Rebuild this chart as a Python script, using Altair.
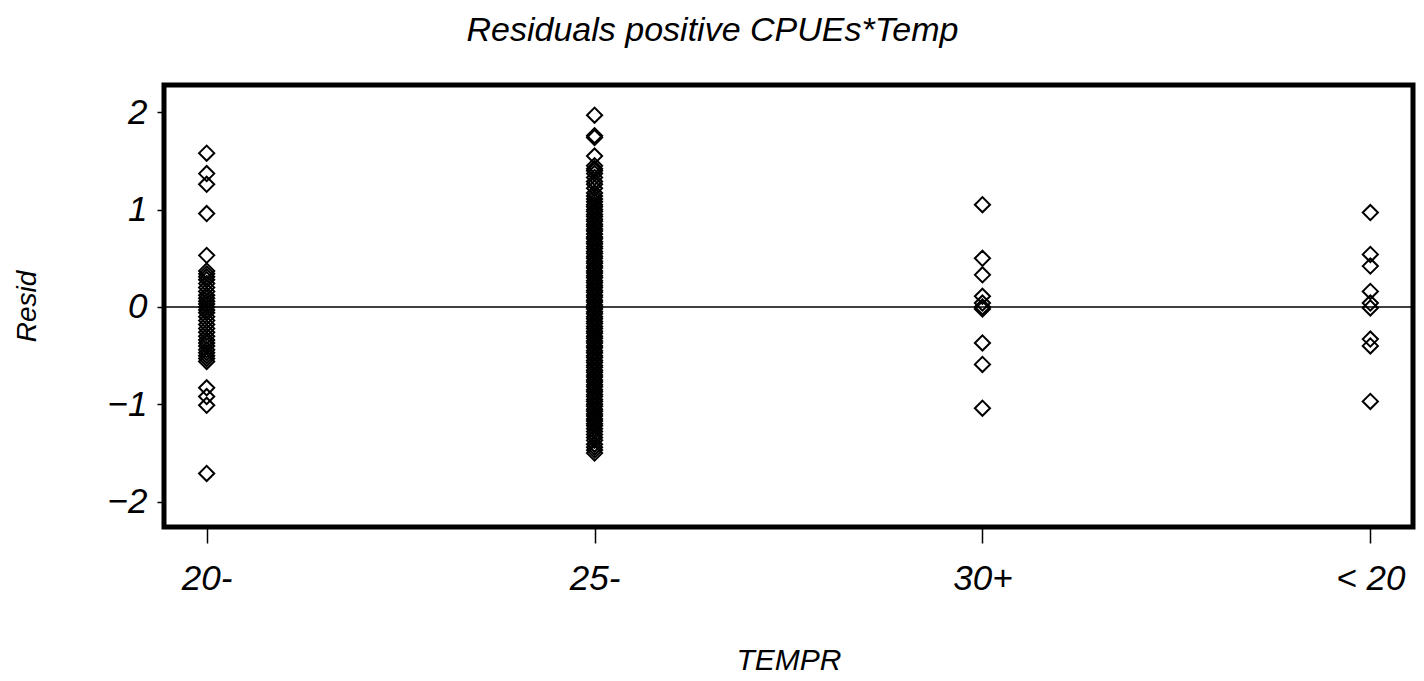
import altair as alt
import pandas as pd

# Temperature classes along the x axis
categories = ["20-", "25-", "30+", "< 20"]

# Residuals per temperature class
resid_20 = [1.58, 1.37, 1.26, 0.96, 0.53, 0.37, 0.34, 0.31, 0.28, 0.24, 0.20,
            0.16, 0.12, 0.09, 0.06, 0.03, 0.00, -0.03, -0.06, -0.10, -0.14,
            -0.18, -0.22, -0.26, -0.30, -0.34, -0.37, -0.40, -0.44, -0.47,
            -0.50, -0.53, -0.56, -0.83, -0.92, -1.01, -1.71]

resid_25 = [1.97, 1.76, 1.74, 1.55, 1.45, 1.42, 1.40, 1.37, 1.33, 1.29, 1.26,
            1.22, 1.17, 1.14, 1.11, 1.08, 1.05, 1.03, 1.00, 0.98, 0.95, 0.93,
            0.90, 0.88, 0.85, 0.83, 0.80, 0.78, 0.75, 0.72, 0.70, 0.67, 0.65,
            0.62, 0.60, 0.57, 0.55, 0.52, 0.50, 0.47, 0.45, 0.42, 0.40, 0.37,
            0.35, 0.32, 0.30, 0.27, 0.25, 0.22, 0.20, 0.17, 0.15, 0.12, 0.10,
            0.07, 0.05, 0.02, 0.00, -0.02, -0.05, -0.07, -0.10, -0.12, -0.15,
            -0.17, -0.20, -0.22, -0.25, -0.27, -0.30, -0.32, -0.35, -0.37,
            -0.40, -0.42, -0.45, -0.47, -0.50, -0.52, -0.55, -0.57, -0.60,
            -0.62, -0.65, -0.67, -0.70, -0.72, -0.75, -0.77, -0.80, -0.82,
            -0.85, -0.87, -0.90, -0.92, -0.95, -0.97, -1.00, -1.02, -1.05,
            -1.07, -1.10, -1.12, -1.15, -1.17, -1.20, -1.22, -1.25, -1.28,
            -1.31, -1.34, -1.37, -1.41, -1.44, -1.47, -1.50]

resid_30 = [1.05, 0.50, 0.33, 0.11, 0.04, 0.00, -0.02, -0.37, -0.59, -1.04]

resid_lt20 = [0.97, 0.54, 0.42, 0.16, 0.04, -0.01, -0.33, -0.40, -0.97]

y_ticks = [-2, -1, 0, 1, 2]
y_domain = [-2.26, 2.28]

rows = []
for cat, vals in zip(categories, [resid_20, resid_25, resid_30, resid_lt20]):
    for v in vals:
        rows.append({"TEMPR": cat, "Resid": v})
df = pd.DataFrame(rows)

FONT = "Liberation Sans"

y_scale = alt.Scale(domain=y_domain, nice=False, zero=False)

points = alt.Chart(df).mark_point(
    shape="diamond", filled=False, color="black", size=230,
    strokeWidth=2, opacity=1
).encode(
    x=alt.X(
        "TEMPR:N", sort=categories,
        scale=alt.Scale(type="point", padding=0.11),
        axis=alt.Axis(
            title="TEMPR", labelAngle=0, domain=False, grid=False,
            ticks=True, tickSize=16, tickColor="black", tickWidth=1.5,
            labelFont=FONT, labelFontSize=35, labelFontStyle="italic",
            labelColor="black", labelPadding=18,
            titleFont=FONT, titleFontSize=30, titleFontStyle="italic",
            titleFontWeight="normal", titleColor="black",
            titleY=133, titleBaseline="middle",
        ),
    ),
    y=alt.Y(
        "Resid:Q", scale=y_scale,
        axis=alt.Axis(
            values=y_ticks, format="d", domain=False, grid=False,
            tickSize=7, tickColor="black", tickWidth=1.5,
            labelFont=FONT, labelFontSize=35, labelFontStyle="italic",
            labelColor="black", labelPadding=10,
            title="Resid", titleFont=FONT, titleFontSize=28,
            titleFontStyle="italic", titleFontWeight="normal",
            titleColor="black", titleAngle=-90, titleX=-137, titleY=221,
            titleAlign="center", titleBaseline="middle",
        ),
    ),
)

zero_line = alt.Chart(pd.DataFrame({"Resid": [0]})).mark_rule(
    color="black", strokeWidth=1.6
).encode(y=alt.Y("Resid:Q", scale=y_scale))

chart = alt.layer(zero_line, points).properties(
    width=1249, height=442,
    autosize=alt.AutoSizeParams(type="none"),
    padding={"left": 164, "top": 85, "right": 11, "bottom": 154},
    background="white",
    title=alt.TitleParams(
        "Residuals positive  CPUEs*Temp", font=FONT, fontSize=34,
        fontStyle="italic", fontWeight="normal", color="black",
        anchor="middle", dx=-76, offset=10, baseline="alphabetic",
    ),
).configure_view(stroke="black", strokeWidth=5)

chart.save("out.html", embed_options={"renderer": "svg", "actions": False})
